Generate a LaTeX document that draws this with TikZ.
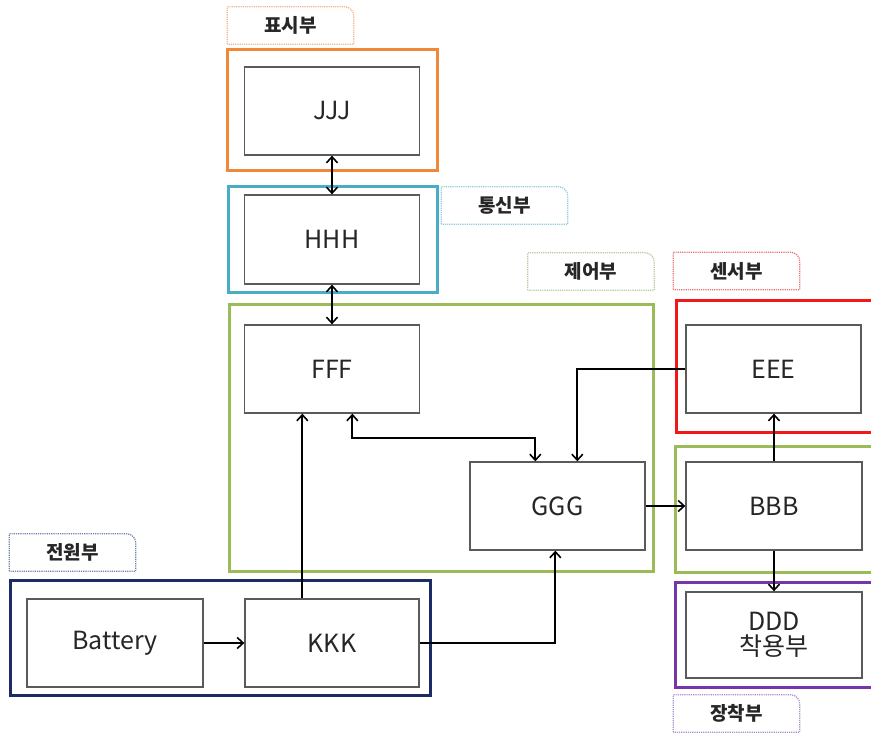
\documentclass[tikz,border=0pt]{standalone}
\usepackage{fontspec}
\setmainfont{Noto Sans CJK KR}
\usetikzlibrary{arrows.meta}
\definecolor{cOrange}{HTML}{F0883A}
\definecolor{cCyan}{HTML}{4BACC6}
\definecolor{cGreen}{HTML}{9BBB59}
\definecolor{cRed}{HTML}{F01818}
\definecolor{cNavy}{HTML}{1C2A66}
\definecolor{cPurple}{HTML}{7436A8}
\definecolor{tOrange}{HTML}{F2B48A}
\definecolor{tCyan}{HTML}{90CCDE}
\definecolor{tGreen}{HTML}{BCC89C}
\definecolor{tRed}{HTML}{EE7070}
\definecolor{tNavy}{HTML}{7080A8}
\definecolor{tPurple}{HTML}{A890D0}
\definecolor{boxline}{HTML}{5A5A5A}
\definecolor{txt}{HTML}{262626}
\tikzset{
  inbox/.style={draw=boxline, line width=1.3pt, minimum width=175pt, minimum height=88pt,
    inner sep=0pt, font=\fontsize{25}{29}\selectfont, text=txt, align=center},
  group/.style={line width=3pt, inner sep=0pt},
  tablabel/.style={inner sep=0pt, minimum width=126pt, minimum height=37pt,
    font=\fontsize{19}{21}\selectfont\bfseries, text=txt},
  conn/.style={line width=1.8pt, black, arrows={-Straight Barb[length=6pt,width=11pt,line width=1.6pt]}},
  conn2/.style={line width=1.8pt, black, arrows={Straight Barb[length=6pt,width=11pt,line width=1.6pt]-Straight Barb[length=6pt,width=11pt,line width=1.6pt]}},
}
\newcommand{\tabshape}[2]{%
  \draw[#2, line width=1.2pt, densely dotted] (#1.south west) -- (#1.north west)
    [rounded corners=9pt] -- (#1.north east) [sharp corners] -- (#1.south east) -- cycle;}
\begin{document}
\begin{tikzpicture}[x=1pt,y=-1pt]
\useasboundingbox (0,0) rectangle (871,735);
\clip (0,0) rectangle (871,735);
\fill[white] (0,0) rectangle (871,735);

% group frames
\node[group, draw=cOrange, minimum width=210pt, minimum height=121pt] (gDisp) at (332,110.5) {};
\node[group, draw=cCyan, minimum width=209pt, minimum height=106pt] (gComm) at (332.5,240) {};
\node[group, draw=cGreen, minimum width=424pt, minimum height=266pt] (gCtrl) at (441,438) {};
\node[group, draw=cRed, minimum width=204pt, minimum height=132pt] (gSens) at (778,367) {};
\node[group, draw=cGreen, minimum width=205pt, minimum height=125pt] (gDrive) at (777.5,509.5) {};
\node[group, draw=cPurple, minimum width=205pt, minimum height=105pt] (gWear) at (777.5,634.5) {};
\node[group, draw=cNavy, minimum width=420pt, minimum height=115pt] (gPower) at (220,637.5) {};

% tabs
\node[tablabel] (tDisp) at (290.5,25.5) {표시부};
\tabshape{tDisp}{tOrange}
\node[tablabel] (tComm) at (504.5,205.5) {통신부};
\tabshape{tComm}{tCyan}
\node[tablabel] (tCtrl) at (591,271.5) {제어부};
\tabshape{tCtrl}{tGreen}
\node[tablabel] (tSens) at (736.5,271) {센서부};
\tabshape{tSens}{tRed}
\node[tablabel] (tPower) at (72.5,552.5) {전원부};
\tabshape{tPower}{tNavy}
\node[tablabel] (tWear) at (736.5,713.5) {장착부};
\tabshape{tWear}{tPurple}

% inner boxes
\node[inbox] (JJJ) at (332,111) {JJJ};
\node[inbox, minimum height=89pt] (HHH) at (332,239.5) {HHH};
\node[inbox] (FFF) at (332,369) {FFF};
\node[inbox] (GGG) at (557.5,506) {GGG};
\node[inbox] (EEE) at (773.5,369) {EEE};
\node[inbox, minimum width=176pt] (BBB) at (774,506) {BBB};
\node[inbox, minimum width=176pt, minimum height=86pt] (DDD) at (774,635) {DDD\\[-4pt]착용부};
\node[inbox, minimum width=176pt] (BAT) at (115,643) {Battery};
\node[inbox, minimum width=174pt] (KKK) at (332,643) {KKK};

% connectors
\draw[conn2] (JJJ.south) -- (HHH.north);
\draw[conn2] (HHH.south) -- (FFF.north);
\draw[conn] ([xshift=58pt]KKK.north west) -- ([xshift=58.5pt]FFF.south west);
\draw[conn2] ([xshift=108.5pt]FFF.south west) -- ++(0,24) -| ([xshift=66pt]GGG.north west);
\draw[conn] (EEE.west) -| ([xshift=108pt]GGG.north west);
\draw[conn] (KKK.east) -| ([xshift=86pt]GGG.south west);
\draw[conn] (GGG.east) -- (BBB.west);
\draw[conn] (BBB.north) -- (BBB.north |- EEE.south);
\draw[conn] (BBB.south) -- (DDD.north);
\draw[conn] (BAT.east) -- (KKK.west);
\end{tikzpicture}
\end{document}
